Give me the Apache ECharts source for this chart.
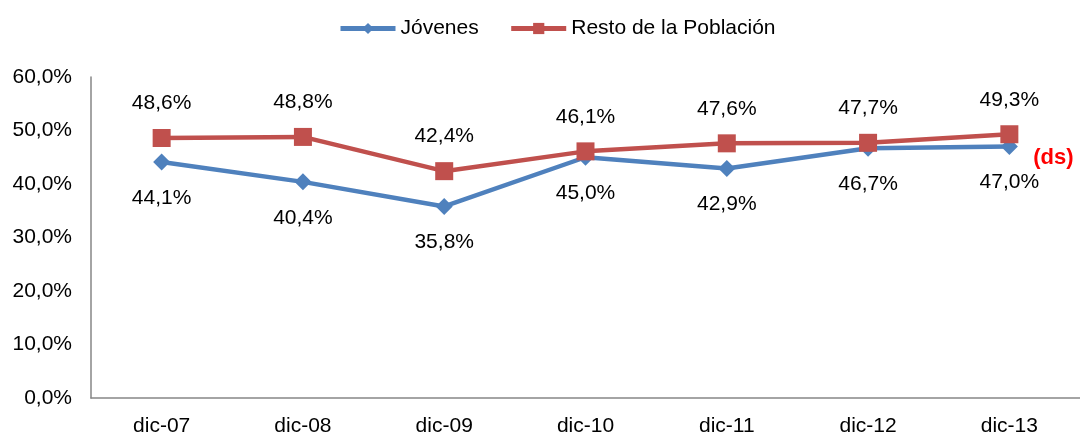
<!DOCTYPE html>
<html><head><meta charset="utf-8">
<script src="https://cdn.jsdelivr.net/npm/echarts@6/dist/echarts.min.js"></script>
<style>html,body{margin:0;padding:0;background:#fff}#c{width:1080px;height:437px}</style>
</head><body><div id="c"></div>
<script>
const categories = ['dic-07','dic-08','dic-09','dic-10','dic-11','dic-12','dic-13'];
const jovenes = [44.1, 40.4, 35.8, 45.0, 42.9, 46.7, 47.0];
const resto = [48.6, 48.8, 42.4, 46.1, 47.6, 47.7, 49.3];
const yTicks = [0, 10, 20, 30, 40, 50, 60];
const fmt = v => v.toFixed(1).replace('.', ',') + '%';
const font = 'Liberation Sans, Arial, sans-serif';
const chart = echarts.init(document.getElementById('c'));
chart.setOption({
  animation: false,
  textStyle: { fontFamily: font },
  legend: {
    top: 13, left: 333, itemWidth: 55, itemHeight: 14, itemGap: 30,
    textStyle: { fontSize: 21, color: '#000', fontFamily: font },
    data: [
      { name: 'Jóvenes', lineStyle: { width: 5 } },
      { name: 'Resto de la Población', lineStyle: { width: 5 } }
    ]
  },
  grid: { left: 91, top: 77, width: 990, height: 325, containLabel: false },
  xAxis: {
    type: 'category', data: categories, boundaryGap: true,
    axisLine: { lineStyle: { color: '#868686', width: 1.5 } },
    axisTick: { show: false },
    axisLabel: { fontSize: 21, color: '#000', margin: 18, fontFamily: font }
  },
  yAxis: {
    type: 'value', min: yTicks[0], max: yTicks[yTicks.length - 1], interval: 10,
    axisLine: { show: true, lineStyle: { color: '#868686', width: 1.5 } },
    axisTick: { show: false },
    splitLine: { show: false },
    axisLabel: { fontSize: 21, color: '#000', margin: 19, formatter: v => fmt(v), fontFamily: font }
  },
  series: [
    {
      name: 'Jóvenes', type: 'line', data: jovenes, z: 2,
      symbol: 'diamond', symbolSize: 17,
      lineStyle: { color: '#4F81BD', width: 4.5 },
      itemStyle: { color: '#4F81BD' },
      label: { show: true, position: 'bottom', distance: 17, fontSize: 21, color: '#000', formatter: p => fmt(p.value), fontFamily: font },
      markPoint: {
        symbol: 'circle', symbolSize: 0,
        data: [{ coord: [categories[6], jovenes[6]] }],
        label: { show: true, formatter: '(ds)', color: '#FF0000', fontWeight: 'bold', fontSize: 22, offset: [44, 11], fontFamily: font }
      }
    },
    {
      name: 'Resto de la Población', type: 'line', data: resto, z: 3,
      symbol: 'rect', symbolSize: 18,
      lineStyle: { color: '#C0504D', width: 4.5 },
      itemStyle: { color: '#C0504D' },
      label: { show: true, position: 'top', distance: 15, fontSize: 21, color: '#000', formatter: p => fmt(p.value), fontFamily: font }
    }
  ]
});
</script></body></html>
